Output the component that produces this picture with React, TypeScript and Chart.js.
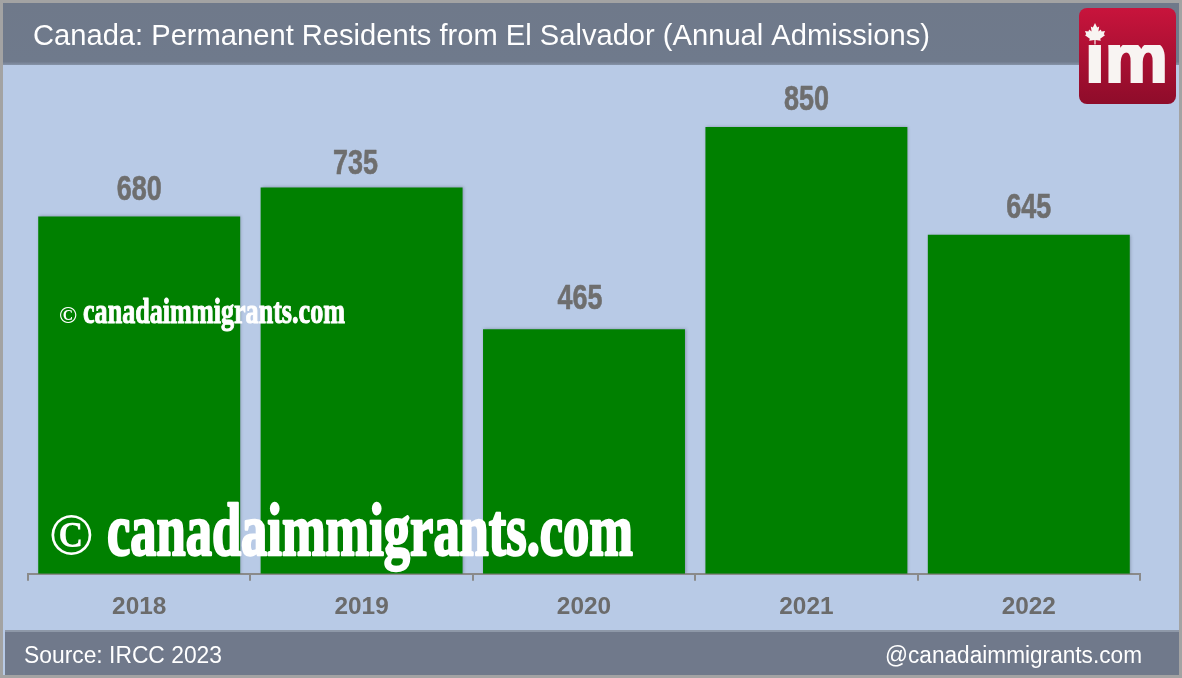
import React, { useEffect, useRef } from "react";
import { Chart, registerables } from "chart.js";

Chart.register(...registerables);

const categories = ["2018", "2019", "2020", "2021", "2022"];
const admissions = [680, 735, 465, 850, 645];
const titleText = "Canada: Permanent Residents from El Salvador (Annual Admissions)";
const sourceText = "Source: IRCC 2023";
const handleText = "@canadaimmigrants.com";
const watermarkText = "canadaimmigrants.com";

const W = 1182;
const H = 678;
const SANS = '"Liberation Sans", Arial, sans-serif';
const SERIF = '"Liberation Serif", serif';
// hand-placed label nudges seen in the reference, relative to each bar
const LABEL_DX = [0, -6, -4, 0, 0];
const LABEL_GAP = [16, 13, 20, 17, 17];

function fitText(ctx: CanvasRenderingContext2D, text: string, x: number, y: number, width: number, font: string, stroke = 0) {
  ctx.save();
  ctx.font = font;
  const w = ctx.measureText(text).width;
  ctx.translate(x, y);
  ctx.scale(width / w, 1);
  ctx.textAlign = "left";
  ctx.textBaseline = "alphabetic";
  ctx.fillText(text, 0, 0);
  if (stroke > 0) {
    ctx.strokeStyle = ctx.fillStyle;
    ctx.lineWidth = stroke;
    ctx.lineJoin = "round";
    ctx.strokeText(text, 0, 0);
  }
  ctx.restore();
}

function drawWatermark(ctx: CanvasRenderingContext2D, cx: number, cw: number, tx: number, tw: number, base: number, size: number, csize: number, stroke: number) {
  ctx.save();
  ctx.fillStyle = "rgba(255,255,255,1)";
  fitText(ctx, "©", cx, base - csize * 0.02, cw, `bold ${csize}px ${SERIF}`);
  fitText(ctx, watermarkText, tx, base, tw, `bold ${size}px ${SERIF}`, stroke);
  ctx.restore();
}

function drawLeaf(ctx: CanvasRenderingContext2D, cx: number, cy: number, s: number) {
  const pts = [
    [0, -1], [0.22, -0.55], [0.42, -0.66], [0.34, -0.14], [0.58, -0.36], [0.66, -0.16], [1, -0.2],
    [0.88, 0.12], [1, 0.22], [0.52, 0.58], [0.58, 0.78], [0.06, 0.7], [0.06, 1.15], [-0.06, 1.15], [-0.06, 0.7],
    [-0.58, 0.78], [-0.52, 0.58], [-1, 0.22], [-0.88, 0.12], [-1, -0.2], [-0.66, -0.16], [-0.58, -0.36],
    [-0.34, -0.14], [-0.42, -0.66], [-0.22, -0.55],
  ];
  ctx.beginPath();
  pts.forEach(([x, y], i) => (i ? ctx.lineTo(cx + x * s, cy + y * s) : ctx.moveTo(cx + x * s, cy + y * s)));
  ctx.closePath();
  ctx.fill();
}

const framePlugin = {
  id: "frame",
  beforeDraw(chart: Chart) {
    const ctx = chart.ctx;
    ctx.save();
    ctx.fillStyle = "#a3a3a3";
    ctx.fillRect(0, 0, W, H);
    ctx.fillStyle = "#b8cae6";
    ctx.fillRect(3, 3, W - 6, H - 6);
    const g1 = ctx.createLinearGradient(0, 3, 0, 66);
    g1.addColorStop(0, "#6f798a");
    g1.addColorStop(0.93, "#6f7a8c");
    g1.addColorStop(1, "#8d9ab0");
    ctx.fillStyle = g1;
    ctx.fillRect(3, 3, W - 6, 62);
    ctx.fillStyle = "#70798b";
    ctx.fillRect(5, 631, W - 8, 44);
    ctx.fillStyle = "#8e98a8";
    ctx.fillRect(5, 630, W - 8, 2);
    ctx.restore();
  },
  beforeDatasetsDraw(chart: Chart) {
    const ctx = chart.ctx;
    ctx.save();
    ctx.shadowColor = "rgba(60,70,90,0.4)";
    ctx.shadowBlur = 3;
    ctx.shadowOffsetX = 1;
    ctx.shadowOffsetY = 0;
  },
  afterDatasetsDraw(chart: Chart) {
    chart.ctx.restore();
  },
  afterDraw(chart: Chart) {
    const ctx = chart.ctx;
    ctx.save();
    // value labels
    const meta = chart.getDatasetMeta(0);
    ctx.fillStyle = "#6e6e6e";
    meta.data.forEach((bar: any, i: number) => {
      fitText(ctx, String(admissions[i]), bar.x - 22.5 + LABEL_DX[i], bar.y - LABEL_GAP[i], 45, `bold 35px ${SANS}`, 0.6);
    });

    // banner text
    ctx.fillStyle = "#ffffff";
    fitText(ctx, titleText, 33, 45, 897, `30px ${SANS}`);
    fitText(ctx, sourceText, 24, 663, 198, `23px ${SANS}`);
    fitText(ctx, handleText, 885, 663, 257, `23px ${SANS}`);

    // watermarks
    drawWatermark(ctx, 59, 18, 83, 262, 323, 35, 23, 1);
    drawWatermark(ctx, 49, 44, 107, 526, 555, 74, 60, 2.5);

    // logo
    const lg = ctx.createLinearGradient(0, 8, 0, 104);
    lg.addColorStop(0, "#c8143c");
    lg.addColorStop(1, "#8e0c2a");
    ctx.fillStyle = lg;
    ctx.beginPath();
    ctx.roundRect(1079, 8, 97, 96, 8);
    ctx.fill();
    ctx.fillStyle = "#f8f4f2";
    ctx.save();
    ctx.beginPath();
    ctx.rect(1079, 45, 97, 38);
    ctx.clip();
    fitText(ctx, "im", 1085, 83, 83, `bold 74px ${SANS}`, 2.5);
    ctx.restore();
    drawLeaf(ctx, 1095, 33, 10);
    ctx.restore();
  },
};

export default function App() {
  const ref = useRef<HTMLCanvasElement | null>(null);
  useEffect(() => {
    document.body.style.margin = "0";
    const chart = new Chart(ref.current as HTMLCanvasElement, {
      type: "bar",
      data: {
        labels: categories,
        datasets: [
          {
            data: admissions,
            backgroundColor: "#008000",
            categoryPercentage: 0.908,
            barPercentage: 1,
          },
        ],
      },
      options: {
        responsive: false,
        devicePixelRatio: 1,
        animation: false,
        layout: { padding: { left: 28, right: 42, top: 64, bottom: 44 } },
        plugins: { legend: { display: false }, title: { display: false }, tooltip: { enabled: false } },
        scales: {
          y: { display: false, min: 0, max: 970 },
          x: {
            offset: true,
            border: { display: true, color: "#8a8a8a", width: 2 },
            grid: { display: true, drawOnChartArea: false, drawTicks: true, color: "#8a8a8a", lineWidth: 2, tickLength: 7, offset: true },
            ticks: { color: "#6b6b6b", font: { family: "Liberation Sans", weight: "bold", size: 24.4 }, padding: 12, maxRotation: 0 },
          },
        },
      },
      plugins: [framePlugin],
    });
    return () => chart.destroy();
  }, []);
  return <canvas ref={ref} width={W} height={H} style={{ display: "block", width: W, height: H }} />;
}
